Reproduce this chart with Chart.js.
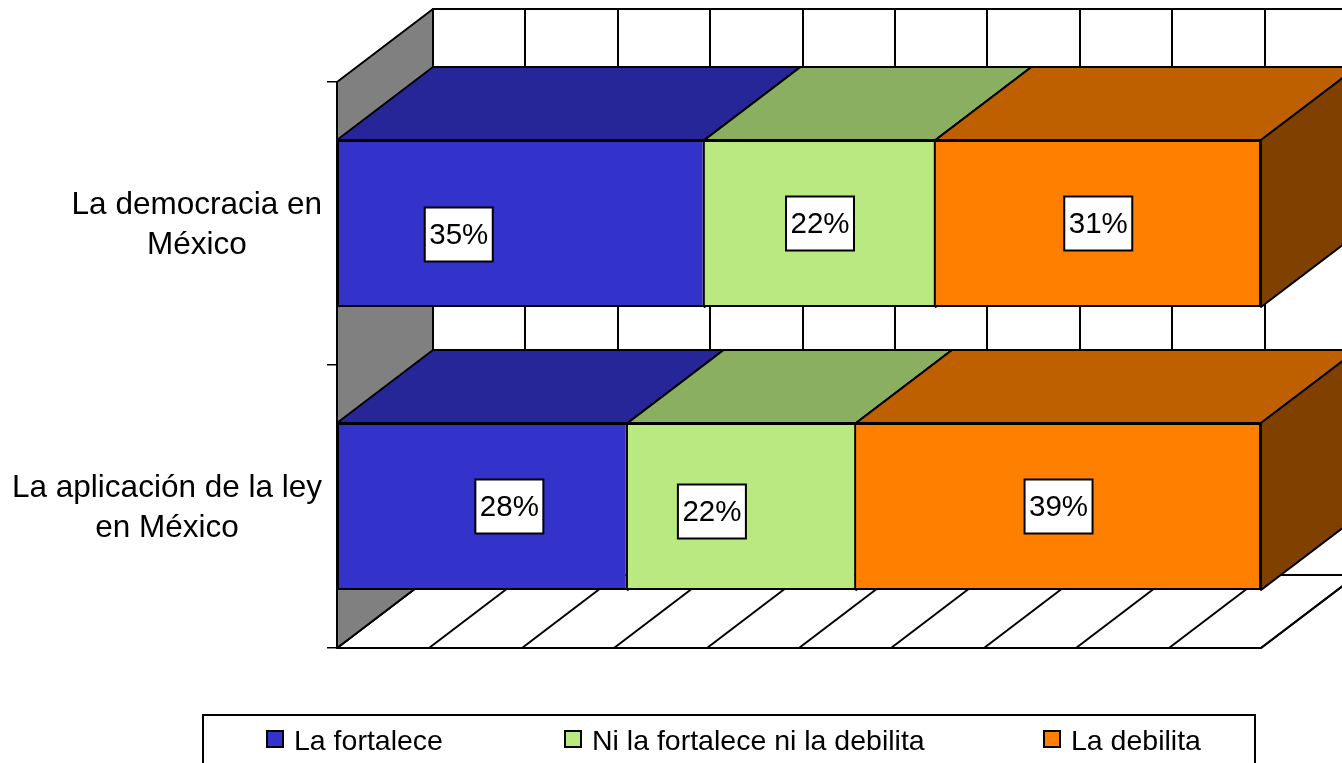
<!DOCTYPE html>
<html><head><meta charset="utf-8">
<style>html,body{margin:0;padding:0;background:#fff;overflow:hidden}#wrap{width:1342px;height:763px;position:relative}</style>
<script src="https://cdn.jsdelivr.net/npm/chart.js@4"></script>
</head><body><div id="wrap"><canvas id="c"></canvas></div>
<script>
const categories = [['La democracia en','México'],['La aplicación de la ley','en México']];
const seriesNames = ['La fortalece','Ni la fortalece ni la debilita','La debilita'];
const laFortalece = [35,28];
const niNi = [22,22];
const laDebilita = [31,39];
const xTickStep = 10;

const frontColors = ['#3333CC','#B9E980','#FF8000'];
const topColors = ['#262699','#8BAF60','#BF6000'];
const sideColors = ['#1A1A66','#5D7540','#804000'];
const labelNudgeX = [[-62,0,0],[27,-30,0]];
const labelNudgeY = [[11,0,0],[0,5,0]];
const DEPTH_X = 96, DEPTH_Y = -73;
const FONT = '"Liberation Sans", Arial, sans-serif';

const rows = [laFortalece,niNi,laDebilita];
const totals = categories.map((_,i)=>rows.reduce((s,r)=>s+r[i],0));
const shares = rows.map(r=>r.map((v,i)=>v/totals[i]*100));

function poly(ctx,pts,fill,lw){
  ctx.beginPath();
  pts.forEach((p,i)=>i?ctx.lineTo(p[0],p[1]):ctx.moveTo(p[0],p[1]));
  ctx.closePath();
  if(fill){ctx.fillStyle=fill;ctx.fill();}
  ctx.lineWidth=lw||2;ctx.strokeStyle='#000';ctx.lineJoin='round';ctx.stroke();
}
function line(ctx,x1,y1,x2,y2,lw){
  ctx.beginPath();ctx.moveTo(x1,y1);ctx.lineTo(x2,y2);ctx.lineWidth=lw||2;ctx.strokeStyle='#000';ctx.stroke();
}

const box3d = {
  id:'box3d',
  beforeDatasetsDraw(chart){
    const ctx=chart.ctx, a=chart.chartArea, xs=chart.scales.x;
    const dx=DEPTH_X, dy=DEPTH_Y;
    ctx.save();
    // back wall
    poly(ctx,[[a.left+dx,a.top+dy],[a.right+dx,a.top+dy],[a.right+dx,a.bottom+dy],[a.left+dx,a.bottom+dy]],'#fff',2);
    // floor
    poly(ctx,[[a.left,a.bottom],[a.right,a.bottom],[a.right+dx,a.bottom+dy],[a.left+dx,a.bottom+dy]],'#fff',2);
    // grid lines on wall and floor
    xs.ticks.forEach(t=>{
      const x=Math.round(xs.getPixelForValue(t.value));
      line(ctx,x+dx,a.top+dy,x+dx,a.bottom+dy,2);
      line(ctx,x,a.bottom,x+dx,a.bottom+dy,2);
    });
    // left wall
    poly(ctx,[[a.left,a.top],[a.left+dx,a.top+dy],[a.left+dx,a.bottom+dy],[a.left,a.bottom]],'#808080',2);
    // depth faces of the bars
    chart.data.datasets.forEach((ds,d)=>{
      chart.getDatasetMeta(d).data.forEach(el=>{
        const p=el.getProps(['x','y','base','height'],true);
        const l=p.base,r=p.x,t=p.y-p.height/2,b=p.y+p.height/2;
        poly(ctx,[[l,t],[r,t],[r+dx,t+dy],[l+dx,t+dy]],topColors[d],2);
        poly(ctx,[[r,t],[r+dx,t+dy],[r+dx,b+dy],[r,b]],sideColors[d],2);
      });
    });
    ctx.restore();
  },
  afterDatasetsDraw(chart){
    const ctx=chart.ctx, ys=chart.scales.y;
    ctx.save();
    // value labels
    chart.data.datasets.forEach((ds,d)=>{
      chart.getDatasetMeta(d).data.forEach((el,i)=>{
        const p=el.getProps(['x','y','base'],true);
        const cx=(p.base+p.x)/2+labelNudgeX[i][d], cy=p.y+labelNudgeY[i][d];
        ctx.fillStyle='#fff';ctx.fillRect(cx-34,cy-27,68,54);
        ctx.lineWidth=2;ctx.strokeStyle='#000';ctx.strokeRect(cx-34,cy-27,68,54);
        ctx.fillStyle='#000';ctx.font='29.5px '+FONT;ctx.textAlign='center';ctx.textBaseline='middle';
        ctx.fillText(rows[d][i]+'%',cx,cy+1);
      });
    });
    // category labels: each block ends at the axis, its lines centred
    ctx.font='31.5px '+FONT;ctx.fillStyle='#000';ctx.textBaseline='middle';ctx.textAlign='center';
    categories.forEach((lines,i)=>{
      const yc=ys.getPixelForValue(i);
      const w=Math.max(...lines.map(s=>ctx.measureText(s).width));
      const cx=322-w/2;
      lines.forEach((s,k)=>ctx.fillText(s,cx,yc+2+(k-(lines.length-1)/2)*40));
    });
    // legend
    ctx.fillStyle='#fff';ctx.fillRect(203,715,1052,60);
    ctx.lineWidth=2;ctx.strokeStyle='#000';ctx.strokeRect(203,715,1052,60);
    const swatchX=[267,565,1044];
    ctx.font='28.5px '+FONT;ctx.textAlign='left';ctx.textBaseline='alphabetic';
    seriesNames.forEach((n,i)=>{
      ctx.fillStyle=frontColors[i];ctx.fillRect(swatchX[i],731,16,16);
      ctx.lineWidth=2;ctx.strokeStyle='#000';ctx.strokeRect(swatchX[i],731,16,16);
      ctx.fillStyle='#000';ctx.fillText(n,swatchX[i]+27,750);
    });
    ctx.restore();
  }
};

new Chart(document.getElementById('c'),{
  type:'bar',
  data:{
    labels:categories,
    datasets:seriesNames.map((n,i)=>({label:n,data:shares[i],backgroundColor:frontColors[i],borderColor:'#000',borderWidth:2,borderSkipped:i===0?false:'start',barPercentage:0.5901,categoryPercentage:1}))
  },
  options:{
    indexAxis:'y',responsive:true,maintainAspectRatio:false,animation:false,
    layout:{padding:{top:82,right:81,bottom:115,left:0}},
    plugins:{legend:{display:false},tooltip:{enabled:false},title:{display:false}},
    scales:{
      x:{stacked:true,min:0,max:100,display:false,ticks:{stepSize:xTickStep,autoSkip:false}},
      y:{stacked:true,
        grid:{drawOnChartArea:false,drawTicks:true,tickLength:10,color:'#000',lineWidth:1.5,offset:true},
        border:{display:true,color:'#000',width:2},
        ticks:{display:false},
        afterFit(s){s.width=337;}
      }
    }
  },
  plugins:[box3d]
});
</script></body></html>
